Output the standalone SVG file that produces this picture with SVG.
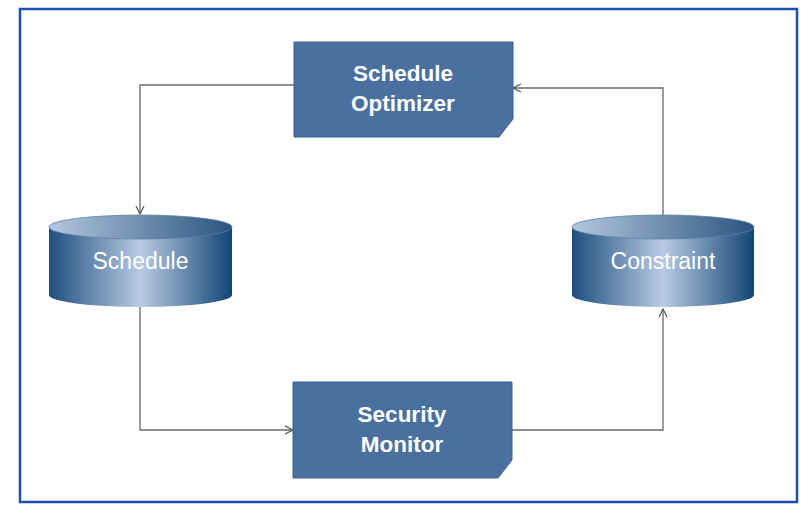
<svg xmlns="http://www.w3.org/2000/svg" width="802" height="505" viewBox="0 0 802 505">
<defs>
<linearGradient id="body" x1="0" y1="0" x2="1" y2="0">
<stop offset="0" stop-color="#1d4f7e"/>
<stop offset="0.5" stop-color="#b9cbe3"/>
<stop offset="1" stop-color="#124575"/>
</linearGradient>
<linearGradient id="top" x1="0" y1="0" x2="1" y2="0">
<stop offset="0" stop-color="#b4c7df"/>
<stop offset="1" stop-color="#2a5580"/>
</linearGradient>
<marker id="arr" viewBox="0 0 10 10" refX="9" refY="5" markerWidth="10" markerHeight="10" markerUnits="userSpaceOnUse" orient="auto">
<path d="M1,1 L9,5 L1,9" fill="none" stroke="#555" stroke-width="1.2"/>
</marker>
</defs>
<style>
.box{fill:#4a70a0;stroke:#3d6090;stroke-width:1}
.bt{font-family:"Liberation Sans",Arial,sans-serif;font-weight:bold;font-size:22.5px;fill:#fff;text-anchor:middle}
.ct{font-family:"Liberation Sans",Arial,sans-serif;font-size:23px;fill:#fff;text-anchor:middle}
.con{fill:none;stroke:#6a6a6a;stroke-width:1.3}
</style>
<rect x="0" y="0" width="802" height="505" fill="#fff"/>
<rect x="20" y="9" width="777" height="493" fill="#fff" stroke="#1c50b0" stroke-width="2.5"/>
<g id="connectors">
<path class="con" d="M294,85 H140 V214" marker-end="url(#arr)"/>
<path class="con" d="M140,307 V430 H293" marker-end="url(#arr)"/>
<path class="con" d="M512,430 H663 V309" marker-end="url(#arr)"/>
<path class="con" d="M663,215 V88 H513" marker-end="url(#arr)"/>
</g>
<g id="schedule-optimizer">
<path class="box" d="M294,42 H513 V119 L499,137 H294 Z"/>
<text class="bt" x="403" y="81">Schedule</text>
<text class="bt" x="403" y="111">Optimizer</text>
</g>
<g id="security-monitor">
<path class="box" d="M293,382 H512 V460 L498,478 H293 Z"/>
<text class="bt" x="402" y="422">Security</text>
<text class="bt" x="402" y="452">Monitor</text>
</g>
<g id="schedule">
<path d="M49,227 V295 A91.5,12 0 0 0 232,295 V227 Z" fill="url(#body)"/>
<ellipse cx="140.5" cy="227" rx="91.5" ry="12" fill="url(#top)" stroke="#5b7fa8" stroke-width="0.8"/>
<text class="ct" x="140.5" y="269">Schedule</text>
</g>
<g id="constraint">
<path d="M572,227 V295 A91,12 0 0 0 754,295 V227 Z" fill="url(#body)"/>
<ellipse cx="663" cy="227" rx="91" ry="12" fill="url(#top)" stroke="#5b7fa8" stroke-width="0.8"/>
<text class="ct" x="663" y="269">Constraint</text>
</g>
</svg>
